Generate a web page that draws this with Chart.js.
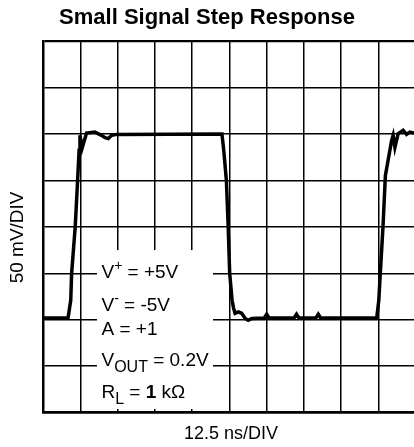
<!DOCTYPE html>
<html>
<head>
<meta charset="utf-8">
<script src="https://cdn.jsdelivr.net/npm/chart.js@4.4.0/dist/chart.umd.min.js"></script>
<style>
  html, body { margin:0; padding:0; background:#fff; }
</style>
</head>
<body>
<canvas id="stepChart" width="414" height="447"></canvas>
<script>
// ===== Scope trace: time in ns, level in mV about the centre line =====
const traceTime = [
  0, 8.4, 9.3, 9.6, 10.8, 11.6, 12.1, 12.4, 13.1, 14.6, 17.4, 19.6, 20.8, 21.9, 23.0, 24.8,
  60.0, 60.6, 61.5, 62.1, 62.6, 63.4, 63.9, 64.4, 65.5, 66.6, 67.8, 68.8, 70.0,
  74.2, 75.0, 75.8, 84.2, 85.0, 85.8, 91.5, 92.3, 93.1,
  111.9, 112.6, 113.1, 114.0, 114.8, 116.9, 117.4, 118.0, 119.1, 120.75, 121.9, 123.0, 124.4
];
const traceLevel = [
  -98, -98, -79, -50, 0, 49.5, 82.5, 98.5, 84.5, 101, 102, 98.5, 96, 95, 98.5, 99.5,
  100, 82.5, 49.5, 0, -50, -79, -87.5, -93, -91.5, -93, -98.5, -100.5, -98.5,
  -98, -94, -98, -98, -94, -98, -98, -94, -98,
  -98, -79, -50, 0, 55, 93, 98.5, 85.5, 100.5, 104, 99.5, 102, 101
];

// ===== Graticule =====
const nsPerDiv = 12.5;
const mvPerDiv = 50;
const sweepEnd = 124.4;          // ns visible on screen
const levelRange = [-200, 200];  // mV, 8 divisions

// ===== Test conditions panel =====
const noteLines = [
  { level: -55.5, runs: [['V', ''], ['+', 'sup'], [' = +5V', '']] },
  { level: -90.5, runs: [['V', ''], ['-', 'sup'], [' = -5V', '']] },
  { level: -116.5, runs: [['A = +1', '']] },
  { level: -150, runs: [['V', ''], ['OUT', 'sub'], [' = 0.2V', '']] },
  { level: -184.5, runs: [['R', ''], ['L', 'sub'], [' = ', ''], ['1', 'bold'], [' k\u03A9', '']] }
];
const noteBoxTime = [18.1, 57.0];
const noteBoxLevel = [-196, -25];
const noteTextTime = 19.6;

const FONT = "Arial, 'Liberation Sans', Helvetica, sans-serif";

const runFonts = {
  '': { font: '19px ' + FONT, shift: 0 },
  bold: { font: 'bold 19px ' + FONT, shift: 0 },
  sup: { font: '14px ' + FONT, shift: -8 },
  sub: { font: '16px ' + FONT, shift: 6 }
};

// white panel over the grid with the test conditions
const notePanel = {
  id: 'notePanel',
  beforeDatasetsDraw(chart) {
    const { ctx, scales: { x, y } } = chart;
    const left = x.getPixelForValue(noteBoxTime[0]);
    const right = x.getPixelForValue(noteBoxTime[1]);
    const top = y.getPixelForValue(noteBoxLevel[1]);
    const bottom = y.getPixelForValue(noteBoxLevel[0]);
    ctx.save();
    ctx.fillStyle = '#fff';
    ctx.fillRect(left, top, right - left, bottom - top);
    ctx.fillStyle = '#000';
    ctx.textBaseline = 'alphabetic';
    ctx.textAlign = 'left';
    noteLines.forEach(line => {
      let px = x.getPixelForValue(noteTextTime);
      const base = y.getPixelForValue(line.level);
      line.runs.forEach(([text, kind]) => {
        const f = runFonts[kind];
        ctx.font = f.font;
        ctx.fillText(text, px, base + f.shift);
        px += ctx.measureText(text).width;
      });
    });
    ctx.restore();
  }
};

new Chart(document.getElementById('stepChart'), {
  type: 'line',
  data: {
    datasets: [{
      data: traceTime.map((t, i) => ({ x: t, y: traceLevel[i] })),
      borderColor: '#000',
      borderWidth: 3.5,
      pointRadius: 0,
      tension: 0,
      fill: false
    }]
  },
  options: {
    responsive: false,
    animation: false,
    devicePixelRatio: 1,
    layout: { padding: 0 },
    plugins: {
      legend: { display: false },
      tooltip: { enabled: false },
      title: {
        display: true,
        text: 'Small Signal Step Response',
        color: '#000',
        font: { family: FONT, size: 22, weight: 'bold' },
        padding: { top: 5, bottom: 9.6 }
      }
    },
    scales: {
      x: {
        type: 'linear',
        min: 0,
        max: sweepEnd,
        ticks: { display: false, stepSize: nsPerDiv, includeBounds: false },
        grid: { color: '#000', lineWidth: 1.5, drawTicks: false },
        border: { color: '#000', width: 2.5 },
        title: {
          display: true,
          text: ' 12.5 ns/DIV',
          color: '#000',
          font: { family: FONT, size: 18 },
          padding: { top: 10.5, bottom: 2.2 }
        }
      },
      y: {
        type: 'linear',
        min: levelRange[0],
        max: levelRange[1],
        ticks: { display: false, stepSize: mvPerDiv },
        grid: {
          color: '#000',
          lineWidth: ctx => (ctx.tick && ctx.tick.value === levelRange[1] ? 2.2 : 1.5),
          drawTicks: false
        },
        border: { color: '#000', width: 2.5 },
        title: {
          display: true,
          // trailing spaces push the label a little below centre
          text: '50 mV/DIV    ',
          color: '#000',
          font: { family: FONT, size: 19 },
          padding: { top: 6.1, bottom: 14.1 }
        }
      }
    }
  },
  plugins: [notePanel]
});
</script>
</body>
</html>
